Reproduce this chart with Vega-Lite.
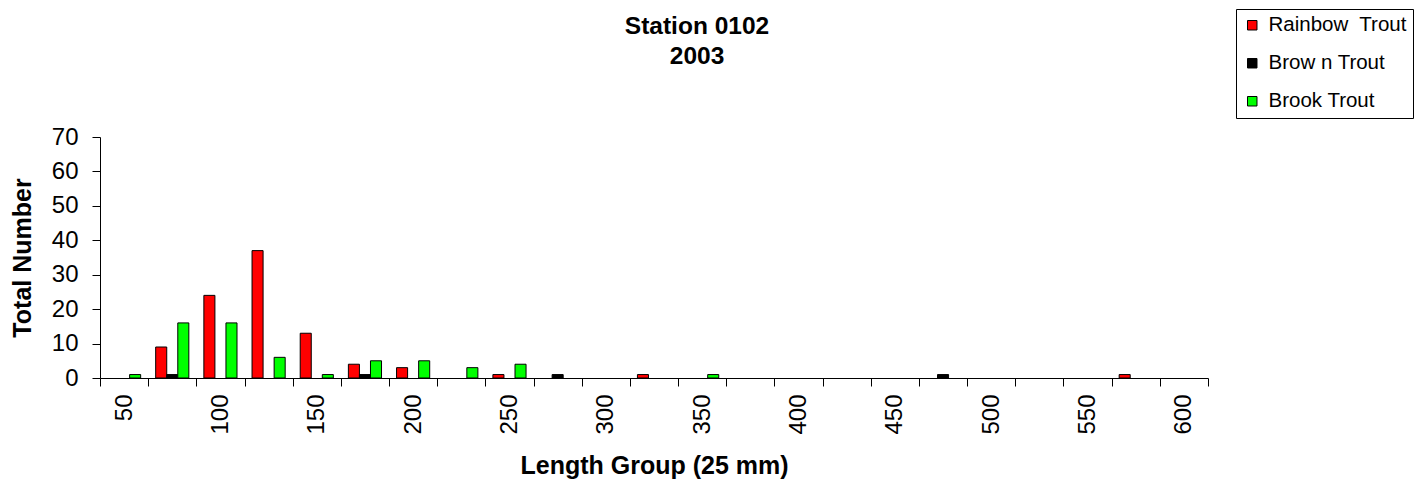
{
  "$schema": "https://vega.github.io/schema/vega-lite/v6.json",
  "width": 1108,
  "height": 241,
  "autosize": {"type": "none"},
  "padding": {"left": 100, "top": 137, "right": 212, "bottom": 106},
  "background": "white",
  "title": {
    "text": ["Station 0102", "2003"],
    "font": "Liberation Sans",
    "fontSize": 24.5,
    "fontWeight": "bold",
    "lineHeight": 30,
    "anchor": "middle",
    "frame": "group",
    "baseline": "top",
    "dx": 43,
    "dy": 61,
    "offset": 0,
    "color": "black"
  },
  "config": {"view": {"stroke": null}, "font": "Liberation Sans"},
  "data": {
    "values": [
      {"species": "Rainbow\u00a0 Trout", "length": 75, "count": 9},
      {"species": "Rainbow\u00a0 Trout", "length": 100, "count": 24},
      {"species": "Rainbow\u00a0 Trout", "length": 125, "count": 37},
      {"species": "Rainbow\u00a0 Trout", "length": 150, "count": 13},
      {"species": "Rainbow\u00a0 Trout", "length": 175, "count": 4},
      {"species": "Rainbow\u00a0 Trout", "length": 200, "count": 3},
      {"species": "Rainbow\u00a0 Trout", "length": 250, "count": 1},
      {"species": "Rainbow\u00a0 Trout", "length": 325, "count": 1},
      {"species": "Rainbow\u00a0 Trout", "length": 575, "count": 1},
      {"species": "Brow n Trout", "length": 75, "count": 1},
      {"species": "Brow n Trout", "length": 175, "count": 1},
      {"species": "Brow n Trout", "length": 275, "count": 1},
      {"species": "Brow n Trout", "length": 475, "count": 1},
      {"species": "Brook Trout", "length": 50, "count": 1},
      {"species": "Brook Trout", "length": 75, "count": 16},
      {"species": "Brook Trout", "length": 100, "count": 16},
      {"species": "Brook Trout", "length": 125, "count": 6},
      {"species": "Brook Trout", "length": 150, "count": 1},
      {"species": "Brook Trout", "length": 175, "count": 5},
      {"species": "Brook Trout", "length": 200, "count": 5},
      {"species": "Brook Trout", "length": 225, "count": 3},
      {"species": "Brook Trout", "length": 250, "count": 4},
      {"species": "Brook Trout", "length": 350, "count": 1}
    ]
  },
  "mark": {"type": "bar", "stroke": "black", "strokeWidth": 1},
  "encoding": {
    "x": {
      "field": "length",
      "type": "ordinal",
      "scale": {
        "domain": [50, 75, 100, 125, 150, 175, 200, 225, 250, 275, 300, 325, 350, 375, 400, 425, 450, 475, 500, 525, 550, 575, 600],
        "paddingInner": 0,
        "paddingOuter": 0
      },
      "axis": {
        "title": "Length Group (25 mm)",
        "titleFont": "Liberation Sans",
        "titleFontSize": 25,
        "titleFontWeight": "bold",
        "titleColor": "black",
        "titlePadding": 19,
        "labelAngle": -90,
        "labelAlign": "right",
        "labelBaseline": "middle",
        "labelFont": "Liberation Sans",
        "labelFontSize": 24,
        "labelColor": "black",
        "labelPadding": 8,
        "labelOverlap": false,
        "labelExpr": "datum.value % 50 == 0 ? datum.label : ''",
        "tickBand": "extent",
        "tickSize": 8,
        "tickColor": "black",
        "domainColor": "black",
        "grid": false
      }
    },
    "xOffset": {
      "field": "species",
      "type": "nominal",
      "scale": {
        "domain": ["Rainbow\u00a0 Trout", "Brow n Trout", "Brook Trout"],
        "paddingInner": 0,
        "paddingOuter": 0.68
      }
    },
    "y": {
      "field": "count",
      "type": "quantitative",
      "scale": {"domain": [0, 70]},
      "axis": {
        "title": "Total Number",
        "values": [0, 10, 20, 30, 40, 50, 60, 70],
        "grid": false,
        "tickSize": 8,
        "tickColor": "black",
        "domainColor": "black",
        "labelFont": "Liberation Sans",
        "labelFontSize": 24,
        "labelColor": "black",
        "labelPadding": 14,
        "titleFont": "Liberation Sans",
        "titleFontSize": 25,
        "titleFontWeight": "bold",
        "titleColor": "black",
        "titlePadding": 16
      }
    },
    "color": {
      "field": "species",
      "type": "nominal",
      "scale": {
        "domain": ["Rainbow\u00a0 Trout", "Brow n Trout", "Brook Trout"],
        "range": ["#FF0000", "#000000", "#00FF00"]
      },
      "legend": {
        "orient": "none",
        "legendX": 1136,
        "legendY": -128,
        "title": null,
        "symbolType": "square",
        "symbolSize": 90,
        "symbolStrokeColor": "black",
        "symbolStrokeWidth": 1,
        "labelFont": "Liberation Sans",
        "labelFontSize": 20.5,
        "labelColor": "black",
        "labelOffset": 6,
        "strokeColor": "black",
        "fillColor": "white",
        "padding": 6,
        "rowPadding": 17
      }
    }
  }
}
